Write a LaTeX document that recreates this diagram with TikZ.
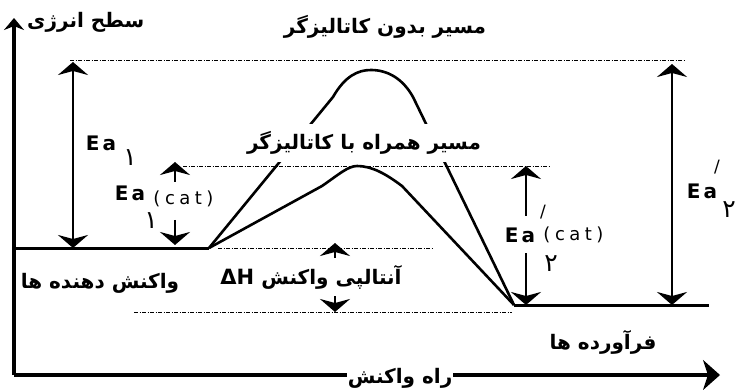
\documentclass[tikz,border=0pt]{standalone}
\usepackage{fontspec}
\setmainfont{DejaVu Sans}
\newfontfamily\fafont[Script=Arabic]{DejaVu Sans}
\newfontfamily\lat{DejaVu Sans}
\newfontfamily\latsp[LetterSpace=25]{DejaVu Sans}
\TeXXeTstate=1
\usetikzlibrary{arrows.meta, positioning}

\begin{document}
\begin{tikzpicture}[x=1pt,y=-1pt,>={Stealth[length=13pt,width=30pt,inset=4pt]},
    axisline/.style={line width=3.4pt},
    stage/.style={line width=3pt},
    curve/.style={line width=2.6pt,line join=round},
    guide/.style={line width=0.7pt,dash pattern=on 4pt off 1.5pt on 1pt off 1.5pt},
    barrow/.style={->,line width=2.6pt},
    dbarrow/.style={<->,line width=2.6pt},
    fa/.style={font=\fafont\bfseries\fontsize{20}{22}\selectfont,inner sep=1pt},
    ea/.style={font=\lat\bfseries\fontsize{20}{23}\selectfont,inner sep=0pt},
    cat/.style={font=\latsp\fontsize{18}{20}\selectfont,inner sep=0pt},
    sub/.style={font=\fafont\fontsize{25}{27}\selectfont,inner sep=0pt},
    prime/.style={font=\lat\fontsize{17}{19}\selectfont,inner sep=0pt}]
    \useasboundingbox (0,0) rectangle (736,390);

    % axes
    \coordinate (origin) at (14,375);
    \coordinate (ytop) at (14,18);
    \coordinate (xend) at (720,375);
    \draw[axisline,-{Stealth[length=12pt,width=20pt]}] (origin) -- (ytop);
    \draw[axisline,-{Stealth[length=17pt,width=30pt,inset=5pt]}] (origin) -- (xend);
    \node[fa,anchor=west] (energy) at (26,22) {\beginR سطح انرژی\endR};
    \node[fa,fill=white] (course) at (400,378) {\beginR راه واکنش\endR};

    % levels
    \coordinate (r0) at (14,248);
    \coordinate (r1) at (209,248);
    \coordinate (p0) at (514,305);
    \coordinate (p1) at (709,305);
    \draw[stage] (r0) -- (r1);
    \draw[stage] (p0) -- (p1);

    % guide lines
    \draw[guide] (70,60) -- (685,60);
    \draw[guide] (183,166) -- (549,166);
    \draw[guide] (218,248) -- (434,248);
    \draw[guide] (134,312) -- (512,312);

    % paths
    \draw[curve] (r1) -- (333,97) .. controls (345,76) and (358,70) .. (371,70)
        .. controls (388,70) and (403,79) .. (413,97) -- (p0);
    \draw[curve] (r1) -- (322,186) .. controls (338,175) and (348,166) .. (357,166)
        .. controls (372,166) and (386,174) .. (402,186) -- (p0);
    \node[fa] (nocat) at (385,27) {\beginR مسیر بدون کاتالیزگر\endR};
    \node[fa,fill=white,minimum height=38pt] (withcat) at (364,143) {\beginR مسیر همراه با کاتالیزگر\endR};
    \node[fa] (react) at (100,283) {\beginR واکنش دهنده ها\endR};
    \node[fa] (prod) at (603,342) {\beginR فرآورده ها\endR};

    % energy gaps
    \draw[dbarrow] (73,248) -- (73,62);
    \node[ea] (ea1) at (101,143) {E\kern3pt a};
    \node[sub] (ea1sub) at (130,158) {۱};

    \draw[barrow] (175,182) -- (175,162);
    \draw[barrow] (175,220) -- (175,245);
    \node[ea] (eacat1) at (130,193) {E\kern3pt a};
    \node[cat] (cat1) [right=8pt of eacat1,yshift=-6pt] {(cat)};
    \node[sub] (eacat1sub) at (151,221) {۱};

    \draw[barrow] (335,258) -- (335,243);
    \draw[barrow] (335,296) -- (335,312);
    \node[fa] (dh) at (311,277) {\beginR آنتالپی واکنش \beginL{\lat\bfseries\fontsize{21}{23}\selectfont ΔH}\endL\endR};

    \draw[barrow] (526,216) -- (526,166);
    \draw[barrow] (526,253) -- (526,305);
    \node[ea] (eacat2) at (520,235) {E\kern3pt a};
    \node[cat] (cat2) [right=8pt of eacat2] {(cat)};
    \node[prime] (cat2prime) at (543,212) {/};
    \node[sub] (eacat2sub) at (551,264) {۲};

    \draw[dbarrow] (672,305) -- (672,64);
    \node[ea] (ea2) at (702,191) {E\kern3pt a};
    \node[prime] (ea2prime) at (717,167) {/};
    \node[sub] (ea2sub) at (729,210) {۲};
\end{tikzpicture}
\end{document}
